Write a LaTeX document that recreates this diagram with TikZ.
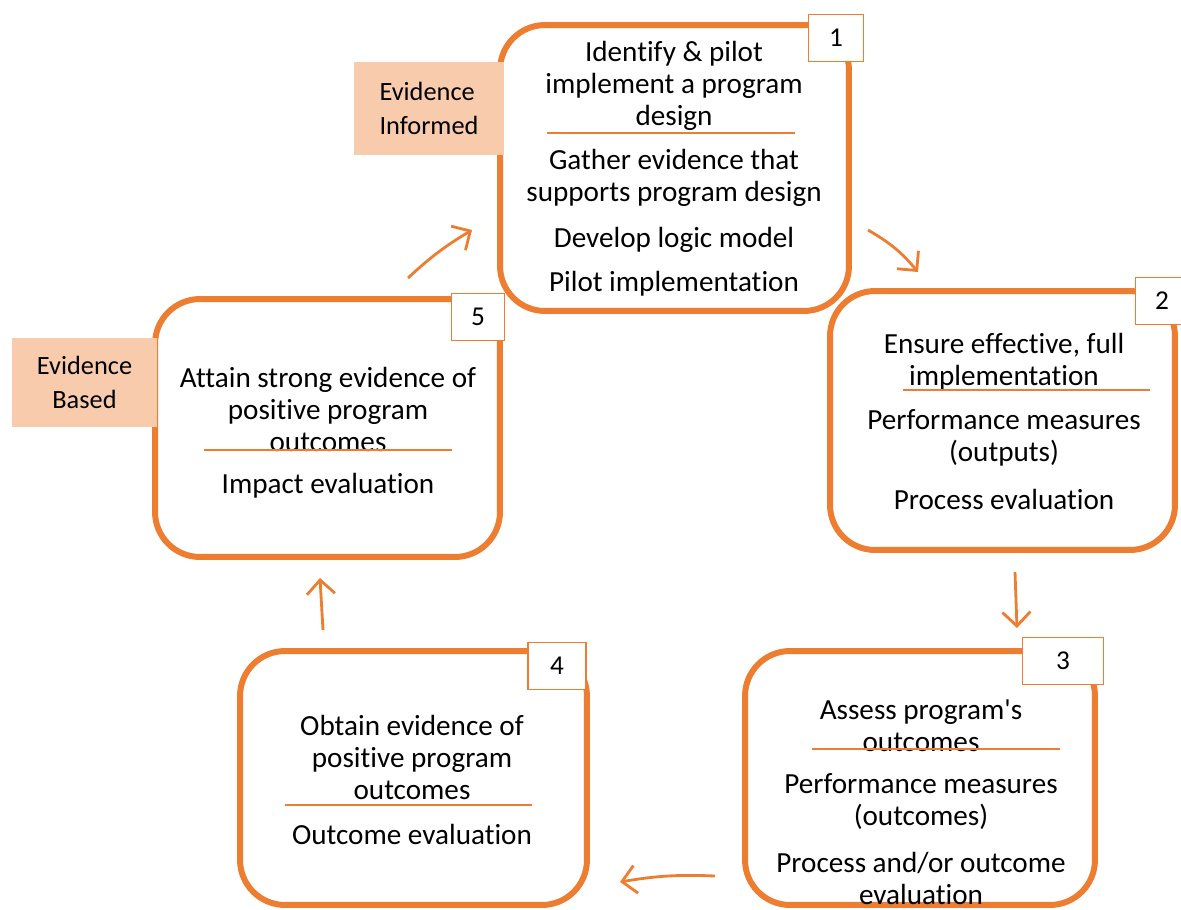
\documentclass[tikz,border=0pt]{standalone}
\usepackage{fontspec}
\setmainfont{Carlito}[Ligatures={TeX,NoCommon}]
\usetikzlibrary{arrows.meta, positioning, calc}
\definecolor{cycleorange}{HTML}{ED7D31}
\definecolor{tagpeach}{HTML}{F8CBAD}
\tikzset{
    stage/.style={rectangle, draw=cycleorange, line width=3.4pt, rounded corners=0.9cm, fill=white},
    numbox/.style={rectangle, draw=cycleorange, line width=1.1pt, fill=white, inner sep=0pt, font=\fontsize{15.5}{17}\selectfont},
    tagbox/.style={rectangle, fill=tagpeach, inner sep=0pt, font=\fontsize{15}{19.5}\selectfont},
    txt/.style={align=center, inner sep=0pt, font=\fontsize{16.6}{18.2}\selectfont},
    sepline/.style={draw=cycleorange, line width=0.6pt},
    flow/.style={-{Straight Barb[length=2.8mm, width=5.6mm]}, line width=1.6pt, draw=cycleorange}
}

\begin{document}
\begin{tikzpicture}[x=0.02cm, y=-0.02cm]
    \clip (0,0) rectangle (1181,910);
    % stages
    \node[stage, minimum width=6.98cm, minimum height=5.72cm] (s1) at (674.5,168) {};
    \node[stage, minimum width=6.9cm, minimum height=5.18cm] (s2) at (1002.5,420.5) {};
    \node[stage, minimum width=7.0cm, minimum height=5.08cm] (s3) at (920,778) {};
    \node[stage, minimum width=6.94cm, minimum height=5.08cm] (s4) at (413.5,778) {};
    \node[stage, minimum width=6.9cm, minimum height=5.16cm] (s5) at (327.5,428) {};
    % tags
    \node[tagbox, minimum width=3.0cm, minimum height=1.86cm, align=left] (informed) at (429,108.5) {Evidence\\Informed};
    \node[tagbox, minimum width=2.9cm, minimum height=1.78cm, align=center] (based) at (84.5,382.5) {Evidence\\Based};
    % numbers
    \foreach \n/\x/\y/\w in {1/836/38/1.1, 2/1162/301/1.06, 3/1063/661/1.62, 4/557/666/1.16, 5/478/317/1.06}
        \node[numbox, minimum width=\w cm, minimum height=0.94cm] (n\n) at (\x,\y) {\raisebox{-0.1cm}{\n}};
    % texts
    \node[txt] (t1a) at (674,86) {Identify \& pilot\\implement a program\\design};
    \node[txt] (t1b) at (674,178) {Gather evidence that\\supports program design};
    \node[txt] (t1c) at (674,240) {Develop logic model};
    \node[txt] (t1d) at (674,284) {Pilot implementation};
    \draw[sepline] (547,133) -- (795,133);
    \node[txt] (t2a) at (1004,362) {Ensure effective, full\\implementation};
    \node[txt] (t2b) at (1004,438) {Performance measures\\(outputs)};
    \node[txt] (t2c) at (1004,499) {Process evaluation};
    \draw[sepline] (903,390) -- (1150,390);
    \node[txt] (t3a) at (921,726) {Assess program\textquotesingle s\\outcomes};
    \node[txt] (t3b) at (921,802) {Performance measures\\(outcomes)};
    \node[txt] (t3c) at (921,878) {Process and/or outcome\\evaluation};
    \draw[sepline] (812,749) -- (1060,749);
    \node[txt] (t4a) at (412,757) {Obtain evidence of\\positive program\\outcomes};
    \node[txt] (t4b) at (412,834) {Outcome evaluation};
    \draw[sepline] (285,805) -- (532,805);
    \node[txt] (t5a) at (328,409) {Attain strong evidence of\\positive program\\outcomes};
    \node[txt] (t5b) at (328,486) {Impact evaluation};
    \draw[sepline] (204,450) -- (452,450);
    % arrows
    \coordinate (a51s) at (408,278);
    \coordinate (a51e) at (472,230);
    \coordinate (a12s) at (868,230);
    \coordinate (a12e) at (918,272);
    \coordinate (a23s) at (1015,572);
    \coordinate (a23e) at (1017,628);
    \coordinate (a34s) at (715,876);
    \coordinate (a34e) at (620,882);
    \coordinate (a45s) at (323,630);
    \coordinate (a45e) at (320,578);
    \draw[flow] (a51s) to[bend left=6] (a51e);
    \draw[flow] (a12s) to[bend left=10] (a12e);
    \draw[flow] (a23s) -- (a23e);
    \draw[flow] (a34s) to[bend right=6] (a34e);
    \draw[flow] (a45s) -- (a45e);
\end{tikzpicture}
\end{document}
